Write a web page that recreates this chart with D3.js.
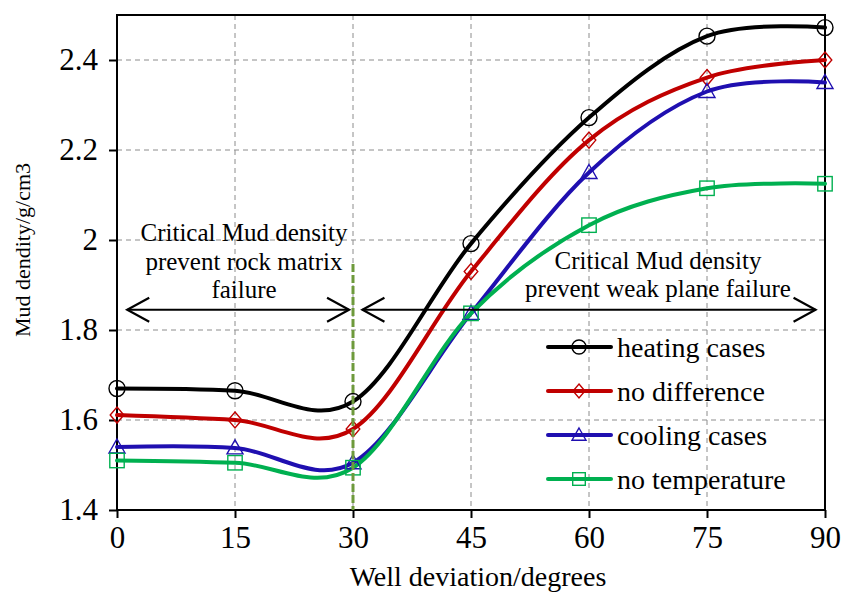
<!DOCTYPE html>
<html>
<head>
<meta charset="utf-8">
<script src="https://cdn.jsdelivr.net/npm/d3@7"></script>
</head>
<body style="margin:0;padding:0;background:#fff">
<svg id="chart" width="856" height="594"></svg>
<script>
// ---- data ----
const deviations = [0, 15, 30, 45, 60, 75, 90];
const heatingCases   = [1.670, 1.665, 1.641, 1.992, 2.272, 2.453, 2.472];
const noDifference   = [1.611, 1.600, 1.580, 1.930, 2.222, 2.361, 2.400];
const coolingCases   = [1.540, 1.538, 1.505, 1.837, 2.150, 2.330, 2.350];
const noTemperature  = [1.510, 1.505, 1.494, 1.837, 2.033, 2.115, 2.125];
const seriesNames = ["heating cases", "no difference", "cooling cases", "no temperature"];
const xTicks = [0, 15, 30, 45, 60, 75, 90];
const yTicks = [1.4, 1.6, 1.8, 2.0, 2.2, 2.4];
const leftNote = ["Critical Mud density", "prevent rock matrix", "failure"];
const rightNote = ["Critical Mud density", "prevent weak plane failure"];
const boundaryDeviation = 30;
const arrowLevel = 1.845;

const series = [
  { name: seriesNames[0], values: heatingCases,  color: "#000000", marker: "circle" },
  { name: seriesNames[1], values: noDifference,  color: "#C00000", marker: "diamond" },
  { name: seriesNames[2], values: coolingCases,  color: "#1F0FB0", marker: "triangle" },
  { name: seriesNames[3], values: noTemperature, color: "#00B050", marker: "square" }
];

// ---- layout ----
const svg = d3.select("#chart");
const L = 117, R = 825, T = 15, B = 510;
const x = d3.scaleLinear().domain([0, 90]).range([L, R]);
const y = d3.scaleLinear().domain([1.4, 2.5]).range([B, T]);

function serif(sel, size) {
  return sel.attr("font-family", "Liberation Serif").attr("font-size", size)
    .style("font-family", "'Liberation Serif', 'Times New Roman', serif", "important")
    .style("font-size", size + "px", "important");
}

// grid
const grid = svg.append("g");
grid.selectAll("line.h").data(yTicks.filter(v => v > 1.4)).enter().append("line")
  .attr("x1", L).attr("x2", R).attr("y1", d => y(d)).attr("y2", d => y(d))
  .attr("stroke", "#8c8c8c").attr("stroke-width", 1).attr("stroke-dasharray", "5,4");
grid.selectAll("line.v").data(xTicks.filter(v => v > 0 && v < 90)).enter().append("line")
  .attr("y1", T).attr("y2", B).attr("x1", d => x(d)).attr("x2", d => x(d))
  .attr("stroke", "#8c8c8c").attr("stroke-width", 1).attr("stroke-dasharray", "5,4");

// axes
const xAxis = d3.axisBottom(x).tickValues(xTicks).tickSize(8).tickPadding(8).tickFormat(d3.format("d"));
const yAxis = d3.axisLeft(y).tickValues(yTicks).tickSize(8).tickPadding(11).tickFormat(d => d === 2 ? "2" : d3.format(".1f")(d));

const gx = svg.append("g").attr("transform", `translate(0,${B})`).call(xAxis);
const gy = svg.append("g").attr("transform", `translate(${L},0)`).call(yAxis);
[gx, gy].forEach(g => {
  g.attr("font-family", null).attr("font-size", null);
  g.select(".domain").remove();
  g.selectAll(".tick line").attr("stroke", "#000").attr("stroke-width", 2);
  serif(g.selectAll(".tick text"), 31).attr("fill", "#000");
});
gx.selectAll(".tick text").attr("dy", "0.71em");

// frame
svg.append("rect").attr("x", L).attr("y", T).attr("width", R - L).attr("height", B - T)
  .attr("fill", "none").attr("stroke", "#000").attr("stroke-width", 2);

// axis titles
serif(svg.append("text"), 28).attr("x", 478).attr("y", 586).attr("text-anchor", "middle")
  .text("Well deviation/degrees");
serif(svg.append("text"), 22).attr("transform", "translate(30,250) rotate(-90)").attr("text-anchor", "middle")
  .text("Mud dendity/g/cm3");

// lines
const line = d3.line().x((d, i) => x(deviations[i])).y(d => y(d)).curve(d3.curveCardinal.tension(0));

function drawMarker(g, type, cx, cy, color, s) {
  if (type === "circle") {
    g.append("circle").attr("cx", cx).attr("cy", cy).attr("r", s)
      .attr("fill", "none").attr("stroke", color).attr("stroke-width", 1.4);
  } else if (type === "diamond") {
    g.append("path").attr("d", `M${cx},${cy - s}L${cx + s * 0.85},${cy}L${cx},${cy + s}L${cx - s * 0.85},${cy}Z`)
      .attr("fill", "none").attr("stroke", color).attr("stroke-width", 1.4);
  } else if (type === "triangle") {
    g.append("path").attr("d", `M${cx},${cy - s}L${cx + s},${cy + s * 0.75}L${cx - s},${cy + s * 0.75}Z`)
      .attr("fill", "none").attr("stroke", color).attr("stroke-width", 1.4);
  } else {
    g.append("rect").attr("x", cx - s * 0.9).attr("y", cy - s * 0.9).attr("width", s * 1.8).attr("height", s * 1.8)
      .attr("fill", "none").attr("stroke", color).attr("stroke-width", 1.4);
  }
}

const plot = svg.append("g");
series.forEach(s => {
  plot.append("path").datum(s.values).attr("d", line)
    .attr("fill", "none").attr("stroke", s.color).attr("stroke-width", 4)
    .attr("stroke-linecap", "round");
});
series.forEach(s => {
  const g = plot.append("g");
  s.values.forEach((v, i) => drawMarker(g, s.marker, x(deviations[i]), y(v), s.color, 8));
});

// boundary dashed line
svg.append("line").attr("x1", x(boundaryDeviation)).attr("x2", x(boundaryDeviation))
  .attr("y1", 264).attr("y2", B)
  .attr("stroke", "#6E9A3C").attr("stroke-width", 3).attr("stroke-dasharray", "8,3");

// arrows
const ay = y(arrowLevel);
function arrow(x1, x2) {
  const g = svg.append("g").attr("stroke", "#000").attr("stroke-width", 2.2).attr("fill", "none");
  g.append("line").attr("x1", x1).attr("x2", x2).attr("y1", ay).attr("y2", ay);
  g.append("path").attr("d", `M${x1 + 22},${ay - 12}L${x1},${ay}L${x1 + 22},${ay + 12}`);
  g.append("path").attr("d", `M${x2 - 22},${ay - 12}L${x2},${ay}L${x2 - 22},${ay + 12}`);
}
arrow(x(1.3), x(29.5));
arrow(x(31.2), x(88.8));

// annotations
leftNote.forEach((t, i) => {
  serif(svg.append("text"), 25).attr("x", 244).attr("y", 241 + i * 28.5).attr("text-anchor", "middle").text(t);
});
rightNote.forEach((t, i) => {
  serif(svg.append("text"), 25).attr("x", 658).attr("y", 269 + i * 28).attr("text-anchor", "middle").text(t);
});

// legend
const legend = svg.append("g");
series.forEach((s, i) => {
  const ly = 347 + i * 44;
  legend.append("line").attr("x1", 548).attr("x2", 611).attr("y1", ly).attr("y2", ly)
    .attr("stroke", s.color).attr("stroke-width", 4).attr("stroke-linecap", "round");
  drawMarker(legend, s.marker, 579, ly, s.color, 7);
  serif(legend.append("text"), 28).attr("x", 617).attr("y", ly + 10).text(s.name);
});
</script>
</body>
</html>
